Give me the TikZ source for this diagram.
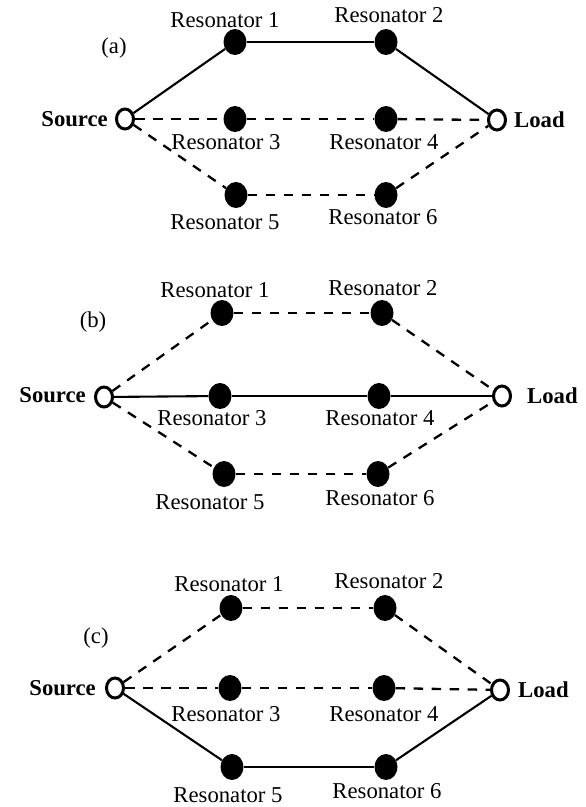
\documentclass[tikz,border=0pt]{standalone}
\usepackage{fontspec}
\setmainfont{Liberation Serif}
\usetikzlibrary{shapes.geometric}
\tikzset{
  reso/.style={ellipse,fill=black,inner sep=0pt,minimum width=23pt,minimum height=26pt},
  port/.style={ellipse,draw=black,fill=white,line width=3pt,inner sep=0pt,minimum width=17pt,minimum height=20pt},
  lbl/.style={anchor=base,inner sep=0pt,font=\fontsize{22.7}{26}\selectfont},
  plbl/.style={inner sep=0pt,font=\fontsize{22.7}{26}\selectfont\bfseries},
  solidc/.style={line width=2.1pt},
  dashc/.style={line width=2.3pt,dash pattern=on 9.5pt off 8.5pt}
}
\begin{document}
\begin{tikzpicture}[x=1pt,y=-1pt]
\useasboundingbox (0,0) rectangle (586,807);
% ---------- panel (a)
\node[port] (aS) at (125,119) {};
\node[port] (aL) at (497,120) {};
\node[reso] (a1) at (235,42) {};
\node[reso] (a2) at (386,42) {};
\node[reso] (a3) at (235,119) {};
\node[reso] (a4) at (386,119) {};
\node[reso] (a5) at (236,195) {};
\node[reso] (a6) at (386,195) {};
\node[lbl,anchor=center] (ta) at (114,48) {(a)};
\node[lbl] (ta1) at (225,27) {Resonator 1};
\node[lbl] (ta2) at (389,22) {Resonator 2};
\node[lbl] (ta3) at (226,149) {Resonator 3};
\node[lbl] (ta4) at (384,149) {Resonator 4};
\node[lbl] (ta5) at (225,229) {Resonator 5};
\node[lbl] (ta6) at (383,224) {Resonator 6};
\node[plbl,anchor=base east] (taS) at (108,126) {Source};
\node[plbl,anchor=base west] (taL) at (514,127) {Load};
\draw[solidc] (aS) -- (a1);
\draw[solidc] (a1) -- (a2);
\draw[solidc] (a2) -- (aL);
\draw[dashc] (aS) -- (a3);
\draw[dashc] (a3) -- (a4);
\draw[dashc] (a4) -- (aL);
\draw[dashc] (aS) -- (a5);
\draw[dashc] (a5) -- (a6);
\draw[dashc] (a6) -- (aL);
% ---------- panel (b)
\node[port] (bS) at (104,397) {};
\node[port] (bL) at (502,396) {};
\node[reso] (b1) at (222,313) {};
\node[reso] (b2) at (382,313) {};
\node[reso] (b3) at (220,396) {};
\node[reso] (b4) at (379,396) {};
\node[reso] (b5) at (224,474) {};
\node[reso] (b6) at (378,474) {};
\node[lbl,anchor=center] (tb) at (93,322) {(b)};
\node[lbl] (tb1) at (215,297) {Resonator 1};
\node[lbl] (tb2) at (383,295) {Resonator 2};
\node[lbl] (tb3) at (212,425) {Resonator 3};
\node[lbl] (tb4) at (380,425) {Resonator 4};
\node[lbl] (tb5) at (210,509) {Resonator 5};
\node[lbl] (tb6) at (380,505) {Resonator 6};
\node[plbl,anchor=base east] (tbS) at (86,402) {Source};
\node[plbl,anchor=base west] (tbL) at (527,403) {Load};
\draw[dashc] (bS) -- (b1);
\draw[dashc] (b1) -- (b2);
\draw[dashc] (b2) -- (bL);
\draw[solidc] (bS) -- (b3);
\draw[solidc] (b3) -- (b4);
\draw[solidc] (b4) -- (bL);
\draw[dashc] (bS) -- (b5);
\draw[dashc] (b5) -- (b6);
\draw[dashc] (b6) -- (bL);
% ---------- panel (c)
\node[port] (cS) at (115,688) {};
\node[port] (cL) at (500,690) {};
\node[reso] (c1) at (231,608) {};
\node[reso] (c2) at (385,608) {};
\node[reso] (c3) at (230,688) {};
\node[reso] (c4) at (384,688) {};
\node[reso] (c5) at (232,767) {};
\node[reso] (c6) at (386,767) {};
\node[lbl,anchor=center] (tc) at (96,638) {(c)};
\node[lbl] (tc1) at (229,591) {Resonator 1};
\node[lbl] (tc2) at (389,588) {Resonator 2};
\node[lbl] (tc3) at (226,721) {Resonator 3};
\node[lbl] (tc4) at (384,721) {Resonator 4};
\node[lbl] (tc5) at (228,802) {Resonator 5};
\node[lbl] (tc6) at (387,798) {Resonator 6};
\node[plbl,anchor=base east] (tcS) at (96,695) {Source};
\node[plbl,anchor=base west] (tcL) at (518,697) {Load};
\draw[dashc] (cS) -- (c1);
\draw[dashc] (c1) -- (c2);
\draw[dashc] (c2) -- (cL);
\draw[dashc] (cS) -- (c3);
\draw[dashc] (c3) -- (c4);
\draw[dashc] (c4) -- (cL);
\draw[solidc] (cS) -- (c5);
\draw[solidc] (c5) -- (c6);
\draw[solidc] (c6) -- (cL);
\end{tikzpicture}
\end{document}
